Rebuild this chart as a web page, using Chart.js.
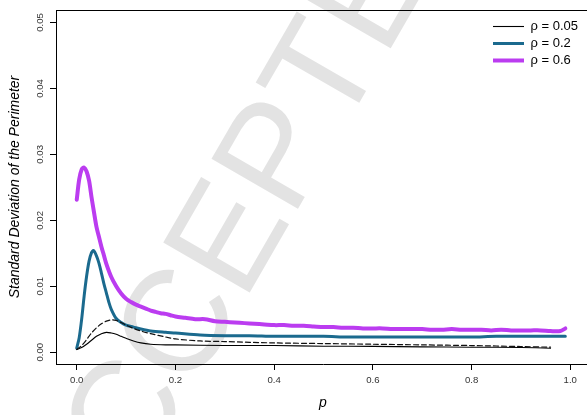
<!DOCTYPE html>
<html>
<head>
<meta charset="utf-8">
<script src="https://cdn.jsdelivr.net/npm/chart.js@4/dist/chart.umd.min.js"></script>
<style>
  html, body { margin: 0; padding: 0; background: #fff; overflow: hidden; }
  canvas { display: block; }
</style>
</head>
<body>
<canvas id="c" width="590" height="415" style="width:590px;height:415px"></canvas>
<script>
// Tick positions
const xTicks = [0, 0.2, 0.4, 0.6, 0.8, 1.0];
const yTicks = [0, 0.01, 0.02, 0.03, 0.04, 0.05];

// rho = 0.6 (simulated)
const pRho06 = [0, 0.005, 0.01, 0.015, 0.02, 0.025, 0.03, 0.035, 0.04, 0.045, 0.05, 0.055, 0.06, 0.07, 0.08, 0.09, 0.10, 0.11, 0.12, 0.13, 0.14, 0.15, 0.16, 0.17, 0.18, 0.19,
  0.20, 0.22, 0.24, 0.26, 0.28, 0.30, 0.32, 0.34, 0.36, 0.38, 0.40, 0.42, 0.44, 0.46, 0.48, 0.50, 0.52, 0.54, 0.56, 0.58, 0.60,
  0.62, 0.64, 0.66, 0.68, 0.70, 0.72, 0.74, 0.76, 0.78, 0.80, 0.82, 0.84, 0.86, 0.88, 0.90, 0.92, 0.94, 0.96, 0.98, 0.99];
const sdRho06 = [0.0231, 0.0262, 0.0277, 0.0280, 0.0274, 0.0260, 0.0235, 0.0212, 0.0190, 0.0175, 0.0160, 0.0147, 0.0134, 0.0114, 0.0100, 0.0089, 0.0081, 0.0076, 0.0072, 0.0069, 0.0066, 0.0063, 0.0061, 0.0059, 0.0058, 0.0056,
  0.0054, 0.0052, 0.0050, 0.0050, 0.0047, 0.0046, 0.0045, 0.0044, 0.0043, 0.0042, 0.0041, 0.0041, 0.0040, 0.0040, 0.0039, 0.0038, 0.0038, 0.0037, 0.0037, 0.0036, 0.0036,
  0.0036, 0.0035, 0.0035, 0.0035, 0.0035, 0.0034, 0.0034, 0.0035, 0.0034, 0.0034, 0.0034, 0.0033, 0.0034, 0.0033, 0.0033, 0.0033, 0.0033, 0.0032, 0.0032, 0.0036];

// rho = 0.2 (simulated)
const pRho02 = [0, 0.005, 0.01, 0.015, 0.02, 0.025, 0.03, 0.034, 0.04, 0.045, 0.05, 0.055, 0.06, 0.065, 0.07, 0.08, 0.09, 0.10, 0.115, 0.13, 0.15, 0.18, 0.20, 0.25,
  0.30, 0.35, 0.40, 0.45, 0.50, 0.55, 0.60, 0.65, 0.70, 0.75, 0.80, 0.85, 0.90, 0.95, 0.99];
const sdRho02 = [0.0006, 0.0022, 0.0050, 0.0085, 0.0115, 0.0138, 0.0151, 0.0154, 0.0146, 0.0135, 0.0120, 0.0104, 0.0090, 0.0076, 0.0065, 0.0051, 0.0045, 0.0041, 0.0038, 0.0035, 0.0032, 0.0030, 0.0029, 0.0026,
  0.0025, 0.0025, 0.0024, 0.0024, 0.0024, 0.0023, 0.0023, 0.0023, 0.0023, 0.0023, 0.0023, 0.0024, 0.0024, 0.0024, 0.0024];

// rho = 0.05 (simulated)
const pRho005 = [0, 0.01, 0.02, 0.03, 0.04, 0.05, 0.06, 0.07, 0.08, 0.09, 0.10, 0.115, 0.13, 0.15, 0.18, 0.20, 0.30, 0.40, 0.50, 0.60, 0.70, 0.80, 0.90, 0.96];
const sdRho005 = [0.0004, 0.0007, 0.0012, 0.0018, 0.0024, 0.0028, 0.0030, 0.0029, 0.0027, 0.0024, 0.0021, 0.0017, 0.0014, 0.0012, 0.0011, 0.0011, 0.0010, 0.0010, 0.0009, 0.00088, 0.0008, 0.00075, 0.0007, 0.0006];

// rho = 0.05 (reference curve, dashed)
const pRef = [0, 0.01, 0.02, 0.03, 0.04, 0.05, 0.06, 0.07, 0.08, 0.09, 0.10, 0.115, 0.13, 0.15, 0.18, 0.20, 0.25, 0.30, 0.40, 0.50, 0.60, 0.70, 0.80, 0.90, 0.96];
const sdRef = [0.0004, 0.0010, 0.0019, 0.0029, 0.0037, 0.0043, 0.0047, 0.0049, 0.0048, 0.0045, 0.0041, 0.0036, 0.0032, 0.0028, 0.0023, 0.0020, 0.0017, 0.0016, 0.0014, 0.0013, 0.0012, 0.0011, 0.0010, 0.00085, 0.00075];

const legendLabels = ['\u03c1 = 0.05', '\u03c1 = 0.2', '\u03c1 = 0.6'];

const toPoints = (xs, ys) => xs.map((x, i) => ({ x, y: ys[i] }));

const FONT = "'Liberation Sans', Arial, Helvetica, sans-serif";

// Diagonal watermark behind everything
const watermark = {
  id: 'watermark',
  beforeDraw(chart) {
    const ctx = chart.ctx;
    ctx.save();
    ctx.translate(288, 226);
    ctx.rotate(-60 * Math.PI / 180);
    ctx.font = "145px " + FONT;
    ctx.fillStyle = '#e3e3e3';
    ctx.textAlign = 'center';
    ctx.textBaseline = 'alphabetic';
    ctx.fillText('ACCEPTED', 0, 0);
    ctx.restore();
  }
};

// Top edge of the plot box
const topBorder = {
  id: 'topBorder',
  afterDraw(chart) {
    const { ctx, chartArea } = chart;
    ctx.save();
    ctx.strokeStyle = '#000';
    ctx.lineWidth = 1;
    ctx.beginPath();
    ctx.moveTo(chartArea.left, chartArea.top + 0.5);
    ctx.lineTo(chartArea.right, chartArea.top + 0.5);
    ctx.stroke();
    ctx.restore();
  }
};

// Put the legend in the top-right corner of the plot area
const legendPlacement = {
  id: 'legendPlacement',
  afterLayout(chart) {
    const lg = chart.legend;
    if (!lg) return;
    const w = lg.width, h = lg.height;
    lg.left = 489;
    lg.right = lg.left + w;
    lg.top = chart.chartArea.top + 6;
    lg.bottom = lg.top + h;
  }
};

new Chart(document.getElementById('c'), {
  type: 'line',
  data: {
    datasets: [
      { label: 'ref', data: toPoints(pRef, sdRef), borderColor: '#111', borderWidth: 1.2, borderDash: [5, 3] },
      { label: legendLabels[0], data: toPoints(pRho005, sdRho005), borderColor: '#000', borderWidth: 1.1 },
      { label: legendLabels[1], data: toPoints(pRho02, sdRho02), borderColor: '#1b6a8e', borderWidth: 3 },
      { label: legendLabels[2], data: toPoints(pRho06, sdRho06), borderColor: '#bb3cf0', borderWidth: 4 }
    ]
  },
  options: {
    responsive: false,
    animation: false,
    layout: { padding: { top: 10, left: 0, right: 0, bottom: 0 } },
    elements: { point: { radius: 0 }, line: { tension: 0.3, borderCapStyle: 'round', borderJoinStyle: 'round' } },
    plugins: {
      tooltip: { enabled: false },
      legend: {
        position: 'chartArea',
        align: 'start',
        labels: {
          usePointStyle: true,
          pointStyle: 'line',
          pointStyleWidth: 31,
          padding: 4,
          color: '#000',
          font: { family: FONT, size: 13 },
          filter: item => item.text !== 'ref'
        }
      }
    },
    scales: {
      x: {
        type: 'linear',
        min: -0.042,
        max: 1.04,
        afterBuildTicks: s => { s.ticks = xTicks.map(v => ({ value: v })); },
        afterFit: s => { s.height = 51; },
        grid: { drawOnChartArea: false, drawTicks: true, tickLength: 6, color: '#000' },
        border: { display: true, color: '#000', width: 1 },
        ticks: { padding: 5, color: '#333', font: { family: FONT, size: 9.6 }, maxRotation: 0, callback: v => v.toFixed(1) },
        title: { display: true, text: 'p', color: '#000', font: { family: FONT, size: 14, style: 'italic' }, padding: { top: 0, bottom: 3 } }
      },
      y: {
        type: 'linear',
        min: -0.0018,
        max: 0.0519,
        afterBuildTicks: s => { s.ticks = yTicks.map(v => ({ value: v })); },
        afterFit: s => { s.width = 56; },
        grid: { drawOnChartArea: false, drawTicks: true, tickLength: 6, color: '#000' },
        border: { display: true, color: '#000', width: 1 },
        ticks: { padding: 0, color: '#333', font: { family: FONT, size: 9.6 }, minRotation: 90, maxRotation: 90, crossAlign: 'center', callback: v => v.toFixed(2) },
        title: { display: true, text: 'Standard Deviation of the Perimeter', color: '#000', font: { family: FONT, size: 14, style: 'italic' }, padding: { top: 7, bottom: 0 } }
      }
    }
  },
  plugins: [watermark, topBorder, legendPlacement]
});
</script>
</body>
</html>
